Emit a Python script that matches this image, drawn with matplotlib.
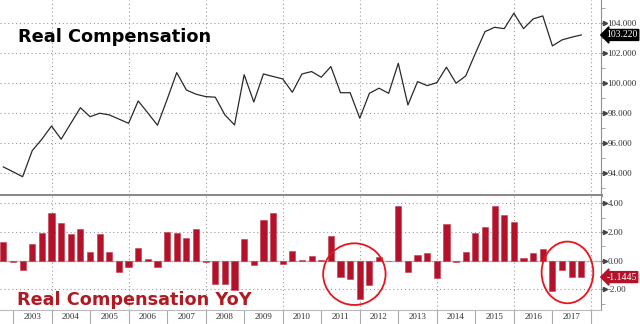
import numpy as np
import matplotlib.pyplot as plt
from matplotlib.patches import Ellipse

# quarterly data, first point 2002 Q4
start_year = 2002.75
level = [94.42, 94.10, 93.77, 95.51, 96.27, 97.15, 96.27, 97.32, 98.37, 97.77,
         98.00, 97.89, 97.61, 97.33, 98.82, 98.02, 97.20, 98.92, 100.71, 99.55,
         99.27, 99.11, 99.07, 97.89, 97.22, 100.57, 98.75, 100.62, 100.45, 100.29,
         99.40, 100.62, 100.78, 100.40, 101.11, 99.37, 99.37, 97.67, 99.33, 99.67,
         99.33, 101.33, 98.55, 100.11, 99.84, 100.04, 101.07, 100.00, 100.49, 101.99,
         103.44, 103.73, 103.64, 104.67, 103.64, 104.29, 104.49, 102.49, 102.89, 103.07,
         103.22]
yoy = [1.27, -0.06, -0.65, 1.16, 1.95, 3.30, 2.65, 1.87, 2.23, 0.60,
       1.87, 0.60, -0.77, -0.42, 0.85, 0.09, -0.42, 2.03, 1.95, 1.60,
       2.18, -0.08, -1.63, -1.63, -2.04, 1.49, -0.30, 2.83, 3.34, -0.25,
       0.68, 0.02, 0.33, 0.08, 1.72, -1.16, -1.30, -2.69, -1.72, 0.28,
       0.00, 3.81, -0.76, 0.40, 0.51, -1.20, 2.56, -0.10, 0.63, 1.90,
       2.36, 3.81, 3.16, 2.71, 0.21, 0.51, 0.79, -2.09, -0.65, -1.11,
       -1.1445]
years = list(range(2003, 2018))
level_ticks = [94, 96, 98, 100, 102, 104]
yoy_ticks = [4, 2, 0, -2]

x = start_year + 0.25*np.arange(len(level))
grid_kw = dict(color='#9a9a9a', linestyle=(0, (1, 2.5)), linewidth=0.8)
lab_font = dict(family='Liberation Serif', size=6.5)
box_font = dict(family='Liberation Serif', size=7.0)
red = '#b3122a'

fig = plt.figure(figsize=(6.4, 3.24), dpi=100)
W = 601/640
ax1 = fig.add_axes([0, (324-195)/324, W, 195/324])
ax2 = fig.add_axes([0, 14/324, W, (310-196)/324])

def style(ax, ticks, minor, fmt):
  for s in ['left', 'top']:
    ax.spines[s].set_visible(False)
  ax.spines['right'].set_color('#909090')
  ax.yaxis.tick_right()
  ax.set_yticks(ticks)
  ax.set_yticks(minor, minor=True)
  ax.set_yticklabels([fmt % t for t in ticks], fontdict=lab_font, color='#333333')
  ax.tick_params(axis='y', which='major', length=3.5, color='#666666', pad=1.2)
  ax.tick_params(axis='y', which='minor', length=3, color='#999999')
  ax.plot(np.full(len(ticks), 1.006), ticks, marker='>', ms=3, ls='none', color='#444444',
          transform=ax.get_yaxis_transform(), clip_on=False)
  ax.grid(axis='y', which='major', **grid_kw)
  for yr in range(2004, 2019, 2):
    ax.axvline(yr, **grid_kw)
  ax.set_xlim(2002.663, 2018.261)

# top panel: level
style(ax1, level_ticks, [93, 95, 97, 99, 101, 103, 105], '%.3f')
ax1.set_ylim(92.55, 105.55)
ax1.plot(x, level, color='#2a2a2a', linewidth=0.9)
ax1.set_xticks([])
ax1.spines['bottom'].set_color('#8a8a8a')
ax1.spines['bottom'].set_linewidth(2.2)
ax1.text(18/601, 1-37/195, 'Real Compensation', transform=ax1.transAxes, fontsize=12.8,
         fontweight='bold', color='black', va='center', ha='left')
ax1.text(1.009, level[-1], '%.3f' % level[-1], transform=ax1.get_yaxis_transform(),
         fontdict=box_font, color='white', va='center', ha='left', zorder=5,
         bbox=dict(boxstyle='larrow,pad=0.1', fc='black', ec='black'))

# bottom panel: yoy
style(ax2, yoy_ticks, [3, 1, -1, -3], '%.2f')
ax2.set_ylim(-3.44, 4.51)
ax2.axhline(0, color='#c8c8c8', linewidth=1.0, zorder=1)
ax2.bar(x, yoy, width=0.16, color=red, edgecolor='#c43a4c', linewidth=0.4, zorder=2)
ax2.spines['bottom'].set_color('#bbbbbb')
ax2.set_xticks(list(range(2003, 2019)))
ax2.set_xticklabels([])
ax2.set_xticks([y + 0.5 for y in years], minor=True)
ax2.set_xticklabels([str(y) for y in years], minor=True, fontdict=lab_font, color='#333333')
ax2.tick_params(axis='x', which='major', length=10, color='#aaaaaa')
ax2.tick_params(axis='x', which='minor', length=0, pad=2)
ax2.text(17/601, -2.74, 'Real Compensation YoY', fontsize=12.7, fontweight='bold',
         color='#b01a22', va='center', ha='left', transform=ax2.get_yaxis_transform())
ax2.text(1.009, yoy[-1], '%.4f' % yoy[-1], transform=ax2.get_yaxis_transform(),
         fontdict=box_font, color='white', va='center', ha='left', zorder=5,
         bbox=dict(boxstyle='larrow,pad=0.1', fc=red, ec=red))

# highlight circles
for cx, cy, w, h in [(2011.86, -0.94, 1.62, 4.30), (2017.39, -0.82, 1.34, 4.30)]:
  ax2.add_patch(Ellipse((cx, cy), w, h, fill=False, ec='#e8141c', lw=1.3, clip_on=False, zorder=6))

fig.savefig('out.png', dpi=100, facecolor='white')
